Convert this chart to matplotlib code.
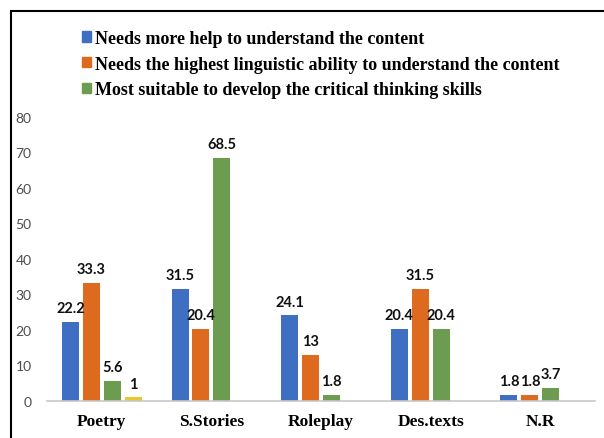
import numpy as np
import matplotlib.pyplot as plt
from matplotlib.patches import Rectangle, Patch

categories = ['Poetry', 'S.Stories', 'Roleplay', 'Des.texts', 'N.R']
series_names = ['Needs more help to understand the content',
                'Needs the highest linguistic ability to understand the content',
                'Most suitable to develop the critical thinking skills']
more_help = [22.2, 31.5, 24.1, 20.4, 1.8]
linguistic = [33.3, 20.4, 13, 31.5, 1.8]
critical = [5.6, 68.5, 1.8, 20.4, 3.7]
other = [1, None, None, None, None]  # only shown for Poetry, no legend entry
yticks = [0, 10, 20, 30, 40, 50, 60, 70, 80]

colors = ['#3F6FC2', '#DD6A1E', '#6C9C50', '#EDC62E']
serif = 'Liberation Serif'
sans = 'Lato'

fig = plt.figure(figsize=(6.04, 4.39), dpi=100)
ax = fig.add_axes([47/604, 1-402/439, 548/604, 284/439])

x = np.arange(len(categories))
step = 0.19
width = 0.155
all_series = [more_help, linguistic, critical, other]
for i, vals in enumerate(all_series):
    xs = [xi + (i - 1.5)*step for xi, v in zip(x, vals) if v is not None]
    vs = [v for v in vals if v is not None]
    bars = ax.bar(xs, vs, width, color=colors[i])
    for b, v in zip(bars, vs):
        ax.annotate(f'{v:g}', (b.get_x() + b.get_width()/2, v),
                    xytext=(0, 5), textcoords='offset points',
                    ha='center', va='bottom', fontsize=10.5,
                    fontweight='bold', family=sans, color='#111111')

ax.set_xlim(-0.5, 4.5)
ax.set_ylim(0, 80)
ax.set_yticks(yticks)
ax.set_xticks(x)
ax.set_xticklabels(categories, family=serif, fontweight='bold', fontsize=12.5)
for lab in ax.get_yticklabels():
    lab.set_family(sans)
    lab.set_fontsize(10)
    lab.set_color('#4d4d4d')
ax.tick_params(axis='both', length=0)
ax.tick_params(axis='y', pad=11)
ax.tick_params(axis='x', pad=9)
for s in ['top', 'right', 'left']:
    ax.spines[s].set_visible(False)
ax.spines['bottom'].set_color('#C8C8C8')
ax.spines['bottom'].set_linewidth(1.2)

handles = [Patch(color=c) for c in colors[:3]]
fig.legend(handles, series_names, loc='upper left',
           bbox_to_anchor=(82/604, 1-31/439), frameon=False,
           prop={'family': serif, 'weight': 'bold', 'size': 13},
           handlelength=0.5, handleheight=0.5, handletextpad=0.2,
           labelspacing=0.48, borderpad=0, borderaxespad=0)

# frame around the picture (runs off the right and bottom edges)
fig.add_artist(Rectangle((11/604, -0.1), 1.2, 1.1 - 12/439,
                         transform=fig.transFigure, fill=False,
                         edgecolor='black', linewidth=1.5, clip_on=False))

plt.savefig('out.png', dpi=100)
